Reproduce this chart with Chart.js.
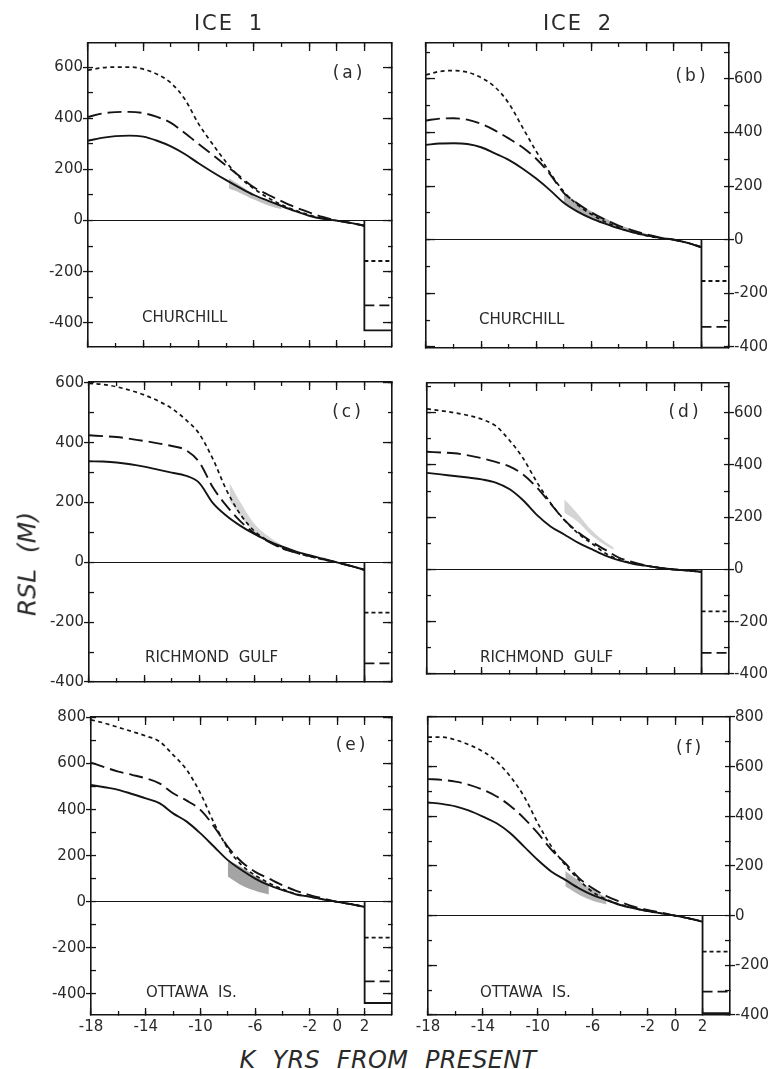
<!DOCTYPE html>
<html><head><meta charset="utf-8">
<script src="https://cdn.jsdelivr.net/npm/chart.js@4.4.1/dist/chart.umd.min.js"></script>
<style>
html,body{margin:0;padding:0;background:#fff;}
body{width:772px;height:1069px;position:relative;overflow:hidden;font-family:'DejaVu Sans',sans-serif;color:#2a2a2a;}
canvas{position:absolute;}
.t{position:absolute;white-space:pre;line-height:1;}
</style></head><body>
<script>
// ---------- DATA ----------
const X_YEARS = [-18,-17,-16,-15,-14,-13,-12,-11,-10,-9,-8,-7,-6,-5,-4,-3,-2,-1,0,1,2];
const STEP_X = [2, 4];
const X_MINOR_TICKS = [-18,-16,-14,-12,-10,-8,-6,-4,-2,0,2,4];
const X_TICK_LABELS = [-18,-14,-10,-6,-2,0,2];
const Y_TICK_LABELS_600 = [600,400,200,0,-200,-400];
const Y_TICK_LABELS_800 = [800,600,400,200,0,-200,-400];

// (a) ICE 1, Churchill
const aSolid  = [312,323,330,332,328,312,290,260,224,190,158,128,100,78,57,37,19,7,0,-9,-20];
const aDashed = [405,418,424,425,420,405,382,342,300,258,215,172,130,102,76,52,32,14,0,-9,-20];
const aDotted = [588,597,600,600,592,572,538,475,378,300,228,168,125,90,62,40,22,8,0,-9,-20];
const aStep = [-429,-331,-158];
const aObsX = [-7.8,-7,-6,-5,-4];
const aObsHi = [165,138,104,76,52];
const aObsLo = [125,108,82,60,44];

// (b) ICE 2, Churchill
const bSolid  = [354,359,360,357,345,322,298,266,228,185,138,105,80,60,42,28,16,7,0,-12,-28];
const bDashed = [445,452,453,448,432,408,378,345,302,245,175,135,102,75,52,35,20,8,0,-12,-28];
const bDotted = [615,628,631,625,605,570,510,420,330,250,180,130,95,67,45,28,15,6,0,-12,-28];
const bStep = [-403,-325,-154];
const bObsX = [-8,-7,-6,-5,-4,-3,-2,-1];
const bObsHi = [172,140,106,80,57,38,22,9];
const bObsLo = [135,106,80,60,42,27,14,5];

// (c) ICE 1, Richmond Gulf
const cSolid  = [338,337,334,328,320,310,300,290,266,198,155,122,95,72,53,37,24,12,0,-12,-25];
const cDashed = [425,422,419,413,406,398,389,376,335,250,188,137,98,70,47,33,21,10,0,-12,-25];
const cDotted = [598,595,587,575,560,540,515,478,430,345,240,160,105,72,48,32,20,9,0,-12,-25];
const cStep = [-400,-338,-168];
const cObsX = [-7.8,-7,-6,-5,-4];
const cObsHi = [265,200,130,88,58];
const cObsLo = [205,155,102,72,46];

// (d) ICE 2, Richmond Gulf
const dSolid  = [370,364,358,352,345,333,308,265,209,165,134,103,78,53,35,22,14,6,0,-4,-9];
const dDashed = [451,448,445,437,426,412,395,364,314,252,190,143,106,75,45,28,15,6,0,-4,-9];
const dDotted = [615,608,600,590,575,550,495,426,335,255,190,138,100,62,38,24,14,6,0,-4,-9];
const dStep = [-400,-319,-160];
const dObsX = [-8,-7,-6,-5,-4.4];
const dObsHi = [270,212,150,105,84];
const dObsLo = [218,182,130,93,76];

// (e) ICE 1, Ottawa Is.
const eSolid  = [507,497,486,468,449,428,384,348,297,239,181,138,101,72,51,32,22,10,0,-10,-22];
const eDashed = [604,584,565,551,536,514,471,439,399,326,239,174,130,101,72,48,29,14,0,-10,-22];
const eDotted = [790,775,757,739,720,696,638,572,471,341,232,160,115,82,55,34,22,10,0,-10,-22];
const eStep = [-439,-345,-155];
const eObsX = [-8,-7,-6,-5];
const eObsHi = [180,150,112,78];
const eObsLo = [110,72,48,32];

// (f) ICE 2, Ottawa Is.
const fSolid  = [456,450,440,423,399,372,332,278,224,177,144,110,83,63,43,30,19,9,0,-11,-24];
const fDashed = [550,547,540,527,507,480,442,392,332,265,211,151,110,79,56,36,23,12,0,-11,-24];
const fDotted = [719,719,708,688,661,621,560,480,372,278,204,144,95,65,45,30,18,9,0,-11,-24];
const fStep = [-393,-306,-145];
const fObsX = [-8,-7,-6,-5];
const fObsHi = [180,140,104,72];
const fObsLo = [118,84,60,45];

// ---------- LAYOUT ----------
const MARGIN = {left:60, right:60, top:10, bottom:30};
const panels = [
  {rect:[88,43,392,347],  yMin:-494, yMax:694, side:'left',  yLabels:Y_TICK_LABELS_600, xLabels:false,
   solid:aSolid, dashed:aDashed, dotted:aDotted, step:aStep, obsX:aObsX, obsHi:aObsHi, obsLo:aObsLo, obsColor:'rgba(120,120,120,0.45)'},
  {rect:[426,43,729,348], yMin:-404, yMax:734, side:'right', yLabels:Y_TICK_LABELS_600, xLabels:false,
   solid:bSolid, dashed:bDashed, dotted:bDotted, step:bStep, obsX:bObsX, obsHi:bObsHi, obsLo:bObsLo, obsColor:'rgba(110,110,110,0.55)'},
  {rect:[89,382,392,682], yMin:-400, yMax:603, side:'left',  yLabels:Y_TICK_LABELS_600, xLabels:false,
   solid:cSolid, dashed:cDashed, dotted:cDotted, step:cStep, obsX:cObsX, obsHi:cObsHi, obsLo:cObsLo, obsColor:'rgba(150,150,150,0.4)'},
  {rect:[427,383,729,674], yMin:-400, yMax:714, side:'right', yLabels:Y_TICK_LABELS_600, xLabels:false,
   solid:dSolid, dashed:dDashed, dotted:dDotted, step:dStep, obsX:dObsX, obsHi:dObsHi, obsLo:dObsLo, obsColor:'rgba(160,160,160,0.45)'},
  {rect:[91,717,392,1015], yMin:-491, yMax:802, side:'left', yLabels:Y_TICK_LABELS_800, xLabels:true,
   solid:eSolid, dashed:eDashed, dotted:eDotted, step:eStep, obsX:eObsX, obsHi:eObsHi, obsLo:eObsLo, obsColor:'rgba(90,90,90,0.55)'},
  {rect:[428,717,730,1015], yMin:-400, yMax:800, side:'right', yLabels:Y_TICK_LABELS_800, xLabels:true,
   solid:fSolid, dashed:fDashed, dotted:fDotted, step:fStep, obsX:fObsX, obsHi:fObsHi, obsLo:fObsLo, obsColor:'rgba(110,110,110,0.5)'}
];

const INK = '#141414';
const FONT = 'DejaVu Sans';

function range(min, max, step){
  const out=[]; for(let v=Math.ceil(min/step)*step; v<=max+1e-9; v+=step) out.push(v); return out;
}

// size: thickness of the axis box (0 for inner tick-only axes, margin for outer axes)
function tickAxis(axis, position, min, max, values, len, size, weight, o){
  o = o || {};
  return {
    type:'linear', axis, position, min, max, display:true, weight,
    afterFit: s => { if (axis==='x') s.height = size; else s.width = size; },
    afterBuildTicks: s => { s.ticks = values.map(v => ({value:v})); },
    grid: {display:true, drawOnChartArea: !!o.zero, drawTicks:true, tickLength:len,
           tickColor:INK, tickWidth:1.3, lineWidth:1.1,
           color: ctx => (o.zero && ctx.tick && ctx.tick.value === 0) ? INK : 'rgba(0,0,0,0)'},
    border: {display: !!o.border, color:INK, width:1.6},
    ticks: {display: !!o.labels, padding: o.padding || 0, autoSkip:false, maxRotation:0, minRotation:0,
            font:{family:FONT, size:15}, color:'#2a2a2a', callback: v => String(v)}
  };
}

function pts(xs, ys){ return xs.map((x,i) => ({x, y: ys[i]})); }

panels.forEach((p) => {
  const [L,T,R,B] = p.rect;
  const cv = document.createElement('canvas');
  const w = R - L + MARGIN.left + MARGIN.right, h = B - T + MARGIN.top + MARGIN.bottom;
  cv.width = w; cv.height = h;
  cv.style.left = (L - MARGIN.left) + 'px'; cv.style.top = (T - MARGIN.top) + 'px';
  cv.style.width = w + 'px'; cv.style.height = h + 'px';
  document.body.appendChild(cv);

  const xMin = -18, xMax = 4;
  const minor100 = range(p.yMin, p.yMax, 100);
  const major200 = range(p.yMin, p.yMax, 200);
  const lbl = p.side;
  const other = lbl === 'left' ? 'right' : 'left';

  const scales = {
    xB:  tickAxis('x','bottom', xMin, xMax, X_MINOR_TICKS, -4, 0, 0, {border:true}),
    xBL: tickAxis('x','bottom', xMin, xMax, X_TICK_LABELS, -7, MARGIN.bottom, 5, {labels:p.xLabels, padding:10}),
    xT:  tickAxis('x','top',    xMin, xMax, X_MINOR_TICKS, -4, 0, 0, {border:true}),
    xTL: tickAxis('x','top',    xMin, xMax, X_TICK_LABELS, -8, MARGIN.top, 5, {}),
    yLab:  tickAxis('y', lbl, p.yMin, p.yMax, p.yLabels, 5, MARGIN[lbl], 5, {labels:true, padding:0}),
    yLabM: tickAxis('y', lbl, p.yMin, p.yMax, minor100, -5, 0, 0, {border:true, zero:true}),
    yOth:  tickAxis('y', other, p.yMin, p.yMax, major200, -9, MARGIN[other], 5, {}),
    yOthM: tickAxis('y', other, p.yMin, p.yMax, minor100, -4, 0, 0, {border:true})
  };

  const base = {xAxisID:'xB', yAxisID:'yLabM', pointRadius:0, pointHoverRadius:0, fill:false, borderColor:INK};
  const datasets = [
    {...base, label:'solid',  data: pts(X_YEARS, p.solid),  borderWidth:1.9, cubicInterpolationMode:'monotone'},
    {...base, label:'dashed', data: pts(X_YEARS, p.dashed), borderWidth:1.9, borderDash:[14,6], cubicInterpolationMode:'monotone'},
    {...base, label:'dotted', data: pts(X_YEARS, p.dotted), borderWidth:1.7, borderDash:[4,3.5], cubicInterpolationMode:'monotone'},
    {...base, label:'solid residual',  data:[{x:STEP_X[0], y:0}, {x:STEP_X[0], y:p.step[0]}, {x:STEP_X[1], y:p.step[0]}], borderWidth:1.8, tension:0},
    {...base, label:'dashed residual', data: pts(STEP_X, [p.step[1], p.step[1]]), borderWidth:1.8, borderDash:[10,5], tension:0},
    {...base, label:'dotted residual', data: pts(STEP_X, [p.step[2], p.step[2]]), borderWidth:1.8, borderDash:[4,3], tension:0},
    {...base, label:'obs low',  data: pts(p.obsX, p.obsLo), borderWidth:0, borderColor:'rgba(0,0,0,0)', tension:0.4},
    {...base, label:'obs high', data: pts(p.obsX, p.obsHi), borderWidth:0, borderColor:'rgba(0,0,0,0)', tension:0.4,
      fill:'-1', backgroundColor:p.obsColor}
  ];

  new Chart(cv, {
    type:'line',
    data:{datasets},
    options:{
      responsive:false, animation:false, devicePixelRatio:1,
      layout:{padding:0},
      plugins:{legend:{display:false}, tooltip:{enabled:false}, title:{display:false}},
      events:[],
      scales
    }
  });
});

// ---------- TEXT ----------
function addText(txt, x, baseline, fs, o){
  o = o || {};
  const d = document.createElement('div');
  d.className = 't';
  d.textContent = txt;
  d.style.fontSize = fs + 'px';
  d.style.top = (baseline - 0.846*fs) + 'px';
  d.style.left = x + 'px';
  if (o.center) d.style.transform = 'translateX(-50%)';
  if (o.italic) d.style.fontStyle = 'italic';
  if (o.ls) d.style.letterSpacing = o.ls + 'px';
  if (o.ws) d.style.wordSpacing = o.ws + 'px';
  document.body.appendChild(d);
  return d;
}
const COL_TITLES = ['ICE 1','ICE 2'];
addText(COL_TITLES[0], 229, 31, 21, {center:true, ls:2, ws:6});
addText(COL_TITLES[1], 578, 31, 21, {center:true, ls:2, ws:6});

const SITE_NAMES = ['CHURCHILL','CHURCHILL','RICHMOND  GULF','RICHMOND  GULF','OTTAWA  IS.','OTTAWA  IS.'];
const PANEL_TAGS = ['(a)','(b)','(c)','(d)','(e)','(f)'];
const sitePos = [[142,323],[479,325],[145,663],[480,663],[146,998],[480,998]];
const tagPos  = [[349,78],[692,81],[348,417],[685,417],[352,750],[690,753]];
SITE_NAMES.forEach((s,i) => addText(s, sitePos[i][0], sitePos[i][1], 15));
PANEL_TAGS.forEach((s,i) => addText(s, tagPos[i][0], tagPos[i][1], 17, {center:true, ls:3}));

addText('K YRS FROM PRESENT', 388, 1068, 24, {center:true, italic:true, ws:9, ls:0.3});
const yt = document.createElement('div');
yt.className = 't';
yt.textContent = 'RSL (M)';
yt.style.fontSize = '25px';
yt.style.fontStyle = 'italic';
yt.style.wordSpacing = '8px';
yt.style.left = '27px';
yt.style.top = '564px';
yt.style.transform = 'translate(-50%,-50%) rotate(-90deg)';
document.body.appendChild(yt);
</script>
</body></html>
